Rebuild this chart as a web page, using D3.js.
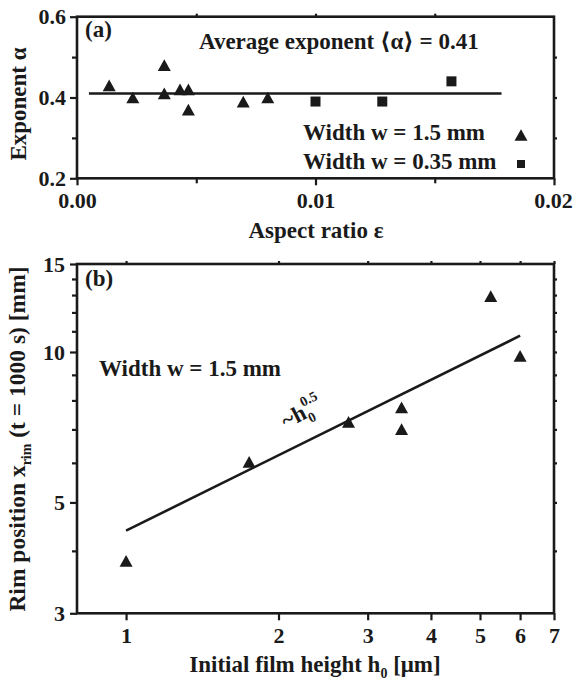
<!DOCTYPE html>
<html>
<head>
<meta charset="utf-8">
<script src="https://cdn.jsdelivr.net/npm/d3@7"></script>
<style>
body{margin:0;background:#fff}
svg text{font-family:"Liberation Serif","Times New Roman","DejaVu Serif",serif;font-weight:bold}
</style>
</head>
<body>
<svg id="plot" width="573" height="684"></svg>
<script>
// (a) exponent alpha vs aspect ratio, w = 1.5 mm (triangles)
const epsWide = [0.00135, 0.00234, 0.00366, 0.00366, 0.00432, 0.00467, 0.00467, 0.00697, 0.0080]
const alphaWide = [0.43, 0.40, 0.48, 0.41, 0.42, 0.42, 0.37, 0.39, 0.40]
// (a) w = 0.35 mm (squares)
const epsNarrow = [0.0100, 0.0128, 0.0157]
const alphaNarrow = [0.39, 0.39, 0.44]
// average exponent line
const avgEps = [0.0005, 0.0178]
const avgAlpha = 0.41
const ticksA_x = [0, 0.01, 0.02]
const minorA_x = [0.005, 0.015]
const ticksA_y = [0.2, 0.4, 0.6]
const minorA_y = [0.3, 0.5]

// (b) rim position vs initial film height
const h0 = [1.0, 1.75, 2.75, 3.5, 3.5, 5.25, 6.0]
const xRim = [3.82, 6.03, 7.25, 7.75, 7.01, 12.94, 9.82]
// ~h0^0.5 fit, end points
const fitH = [1, 6]
const fitX = [4.39, 10.78]
const ticksB_x = [1, 2, 3, 4, 5, 6, 7]
const ticksB_y = [3, 5, 10, 15]
const minorB_y = [4, 6, 7, 8, 9, 11, 12, 13, 14]

const ink = '#1a1a1a'
const fs = 23    // text size
const tickFs = 22 // tick label size
let svg = d3.select('#plot')

// triangle drawn round its box centre, size = width
const triangle = {
  draw(ctx, size){
    let w = size, h = size*0.9
    ctx.moveTo(0, -h/2); ctx.lineTo(w/2, h/2); ctx.lineTo(-w/2, h/2); ctx.closePath()
  }
}
const triPath = d3.symbol(triangle, 13)
const sqPath = d3.symbol(d3.symbolSquare, 100)

const styleAxis = g => {
  g.select('.domain').remove()
  g.attr('font-size', tickFs).attr('font-family', null)
  g.selectAll('line').attr('stroke', ink).attr('stroke-width', 2.2)
  g.selectAll('text').attr('fill', ink)
}

// ---------- panel (a) ----------
const xA = d3.scaleLinear().domain([0, 0.02]).range([77, 554])
const yA = d3.scaleLinear().domain([0.2, 0.6]).range([178.3, 16.7])

svg.append('g').attr('transform', 'translate(0,178.3)')
  .call(d3.axisBottom(xA).tickValues(ticksA_x).tickFormat(d3.format('.2f')).tickSize(7).tickPadding(7)).call(styleAxis)
  .call(g => g.selectAll('text').filter(d => d === 0.02).attr('dx', -1))
svg.append('g').attr('transform', 'translate(0,178.3)')
  .call(d3.axisBottom(xA).tickValues(minorA_x).tickFormat('').tickSize(5)).call(styleAxis)
svg.append('g').attr('transform', 'translate(0,16.7)')
  .call(d3.axisTop(xA).tickValues(minorA_x.concat([0.01])).tickFormat('').tickSize(3)).call(styleAxis)
svg.append('g').attr('transform', 'translate(77,0)')
  .call(d3.axisLeft(yA).tickValues(ticksA_y).tickFormat(d3.format('.1f')).tickSize(7).tickPadding(4)).call(styleAxis)
svg.append('g').attr('transform', 'translate(77,0)')
  .call(d3.axisLeft(yA).tickValues(minorA_y).tickFormat('').tickSize(5)).call(styleAxis)
svg.append('g').attr('transform', 'translate(554,0)')
  .call(d3.axisRight(yA).tickValues(minorA_y.concat([0.4])).tickFormat('').tickSize(3)).call(styleAxis)

svg.append('rect').attr('x', xA(0)).attr('y', yA(0.6))
  .attr('width', xA(0.02)-xA(0)).attr('height', yA(0.2)-yA(0.6))
  .attr('fill', 'none').attr('stroke', ink).attr('stroke-width', 2.6)

svg.append('line').attr('x1', xA(avgEps[0])).attr('x2', xA(avgEps[1]))
  .attr('y1', yA(avgAlpha)).attr('y2', yA(avgAlpha))
  .attr('stroke', ink).attr('stroke-width', 2.6)

svg.append('g').selectAll('path').data(epsWide).enter().append('path')
  .attr('d', triPath).attr('fill', ink)
  .attr('transform', (d, i) => `translate(${xA(d)},${yA(alphaWide[i])})`)
svg.append('g').selectAll('path').data(epsNarrow).enter().append('path')
  .attr('d', sqPath).attr('fill', ink)
  .attr('transform', (d, i) => `translate(${xA(d)},${yA(alphaNarrow[i])})`)

svg.append('text').attr('x', 85).attr('y', 37).attr('font-size', fs).attr('fill', ink).text('(a)')
svg.append('text').attr('x', 199).attr('y', 49).attr('font-size', fs).attr('fill', ink)
  .text('Average exponent \u27E8\u03B1\u27E9 = 0.41')
svg.append('text').attr('x', 303).attr('y', 140).attr('font-size', fs).attr('fill', ink).text('Width w = 1.5 mm')
svg.append('text').attr('x', 303).attr('y', 169).attr('font-size', fs).attr('fill', ink).text('Width w = 0.35 mm')
svg.append('path').attr('d', d3.symbol(triangle, 13)).attr('fill', ink).attr('transform', 'translate(521,135)')
svg.append('path').attr('d', d3.symbol(d3.symbolSquare, 64)).attr('fill', ink).attr('transform', 'translate(521,164)')

svg.append('text').attr('x', 316).attr('y', 238).attr('text-anchor', 'middle').attr('font-size', fs).attr('fill', ink)
  .text('Aspect ratio \u03B5')
svg.append('text').attr('transform', 'translate(26,104) rotate(-90)').attr('text-anchor', 'middle')
  .attr('font-size', fs).attr('fill', ink).text('Exponent \u03B1')

// ---------- panel (b) ----------
const xB = d3.scaleLog().domain([0.8, 7]).range([77, 554])
const yB = d3.scaleLog().domain([3, 15]).range([613.3, 264])

svg.append('g').attr('transform', 'translate(0,613.3)')
  .call(d3.axisBottom(xB).tickValues(ticksB_x).tickFormat(d3.format('d')).tickSize(7).tickPadding(7)).call(styleAxis)
svg.append('g').attr('transform', 'translate(0,264)')
  .call(d3.axisTop(xB).tickValues(ticksB_x).tickFormat('').tickSize(3)).call(styleAxis)
svg.append('g').attr('transform', 'translate(77,0)')
  .call(d3.axisLeft(yB).tickValues(ticksB_y).tickFormat(d3.format('d')).tickSize(7).tickPadding(5)).call(styleAxis)
svg.append('g').attr('transform', 'translate(77,0)')
  .call(d3.axisLeft(yB).tickValues(minorB_y).tickFormat('').tickSize(5)).call(styleAxis)
svg.append('g').attr('transform', 'translate(554,0)')
  .call(d3.axisRight(yB).tickValues(minorB_y.concat([5, 10])).tickFormat('').tickSize(3)).call(styleAxis)

svg.append('rect').attr('x', xB(0.8)).attr('y', yB(15))
  .attr('width', xB(7)-xB(0.8)).attr('height', yB(3)-yB(15))
  .attr('fill', 'none').attr('stroke', ink).attr('stroke-width', 2.6)

svg.append('line').attr('x1', xB(fitH[0])).attr('x2', xB(fitH[1]))
  .attr('y1', yB(fitX[0])).attr('y2', yB(fitX[1]))
  .attr('stroke', ink).attr('stroke-width', 2.6)

svg.append('g').selectAll('path').data(h0).enter().append('path')
  .attr('d', triPath).attr('fill', ink)
  .attr('transform', (d, i) => `translate(${xB(d)},${yB(xRim[i])})`)

svg.append('text').attr('x', 85).attr('y', 286).attr('font-size', fs).attr('fill', ink).text('(b)')
svg.append('text').attr('x', 99).attr('y', 376).attr('font-size', fs).attr('fill', ink).text('Width w = 1.5 mm')

// slope label along the fit line
let note = svg.append('g').attr('transform', 'translate(286,429) rotate(-27)').attr('fill', ink)
note.append('text').attr('font-size', fs).attr('fill', ink).text('~h')
note.append('text').attr('x', 25).attr('y', 6).attr('font-size', 14).attr('fill', ink).text('0')
note.append('text').attr('x', 25).attr('y', -12).attr('font-size', 14).attr('fill', ink).text('0.5')

let xt = svg.append('text').attr('x', 315).attr('y', 672).attr('text-anchor', 'middle').attr('font-size', fs).attr('fill', ink)
xt.append('tspan').text('Initial film height h')
xt.append('tspan').attr('font-size', 14).attr('dy', 6).text('0')
xt.append('tspan').attr('dy', -6).text(' [\u03BCm]')

let yt = svg.append('text').attr('transform', 'translate(25,439) rotate(-90)').attr('text-anchor', 'middle')
  .attr('font-size', 23.5).attr('fill', ink)
yt.append('tspan').text('Rim position x')
yt.append('tspan').attr('font-size', 14).attr('dy', 6).text('rim')
yt.append('tspan').attr('dy', -6).text(' (t = 1000 s) [mm]')
</script>
</body>
</html>
